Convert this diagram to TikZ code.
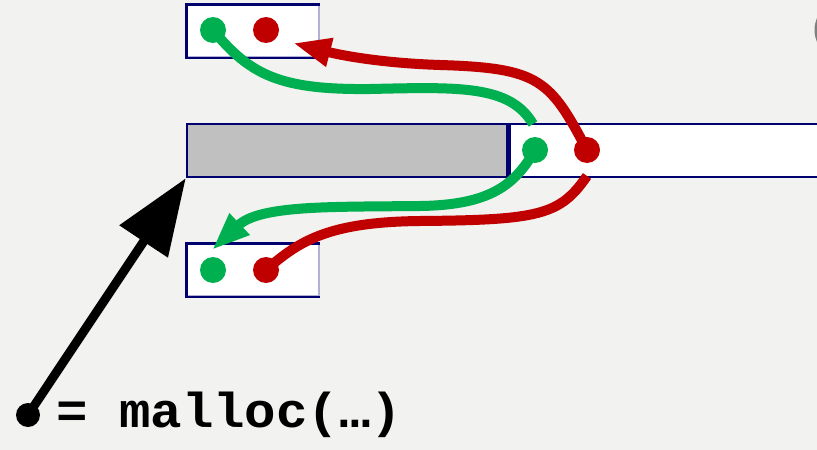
\documentclass[tikz,border=0pt]{standalone}
\usepackage{fontspec}
\newfontfamily\codefont{Liberation Mono}
\usetikzlibrary{arrows.meta}
\definecolor{bgcol}{RGB}{242,242,240}
\definecolor{edge}{RGB}{0,0,110}
\definecolor{edgelight}{RGB}{176,176,216}
\definecolor{heapgray}{RGB}{192,192,192}
\definecolor{ptrgreen}{RGB}{0,176,80}
\definecolor{ptrred}{RGB}{192,0,0}

\begin{document}
\begin{tikzpicture}[x=1pt, y=-1pt,
  slot/.style = {draw=edgelight, fill=white, line width=1.5pt, minimum width=132pt, minimum height=52pt, inner sep=0pt},
  block/.style = {draw=edge, line width=2.5pt, minimum height=53pt, inner sep=0pt},
  gdot/.style = {circle, fill=ptrgreen, minimum size=26pt, inner sep=0pt},
  rdot/.style = {circle, fill=ptrred, minimum size=26pt, inner sep=0pt},
  gline/.style = {draw=ptrgreen, line width=10pt},
  rline/.style = {draw=ptrred, line width=10pt},
  head/.style = {-{Triangle[length=38pt,width=27pt]}}]
\useasboundingbox (0,0) rectangle (817,450);
\clip (0,0) rectangle (817,450);
\fill[bgcol] (0,0) rectangle (817,450);
\draw[gray, line width=3pt] (845,30) circle [radius=29pt];

% the two small slots and the heap block
\node[slot] (top) at (253,31) {};
\node[slot] (bot) at (253,270) {};
\draw[edge, line width=2.5pt] (top.north east) -- (top.north west) -- (top.south west) -- (top.south east);
\draw[edge, line width=2.5pt] (bot.north east) -- (bot.north west) -- (bot.south west) -- (bot.south east);
\node[block, fill=heapgray, minimum width=320pt] (used) at (347,150.5) {};
\node[block, fill=white, minimum width=340pt, anchor=west] (free) at (used.east) {};

\node[gdot] (g1) at (213,30) {};
\node[rdot] (r1) at (266,30) {};
\node[gdot] (g2) at (535,150) {};
\node[rdot] (r2) at (587,150) {};
\node[gdot] (g3) at (213,270) {};
\node[rdot] (r3) at (266,270) {};
\coordinate (r1in) at (293,43);
\coordinate (g3in) at (212,250);
\coordinate (g1out) at (533,124);
\coordinate (r3out) at (587,176);

\draw[rline, head] (r2.center) .. controls (550,80) and (540,68) .. (440,65) .. controls (380,63) and (340,55) .. (r1in);
\draw[gline, head] (g2.center) .. controls (515,185) and (490,205) .. (420,206) .. controls (330,207) and (260,205) .. (g3in);
\draw[gline] (g1.center) .. controls (250,75) and (280,90) .. (370,89) .. controls (460,87) and (510,85) .. (g1out);
\draw[rline] (r3.center) .. controls (300,240) and (330,222) .. (420,221) .. controls (540,220) and (560,215) .. (r3out);

\node[circle, fill=black, minimum size=24pt, inner sep=0pt] (p) at (28,415) {};
\draw[line width=9pt, -{Triangle[length=76pt,width=56pt]}] (p.center) -- (used.south west);
\node[anchor=base west, inner sep=0pt, font=\codefont\bfseries\fontsize{49}{49}\selectfont] (call) at (56,427) {\scalebox{1.07}[1]{= malloc(…)}};
\end{tikzpicture}
\end{document}
